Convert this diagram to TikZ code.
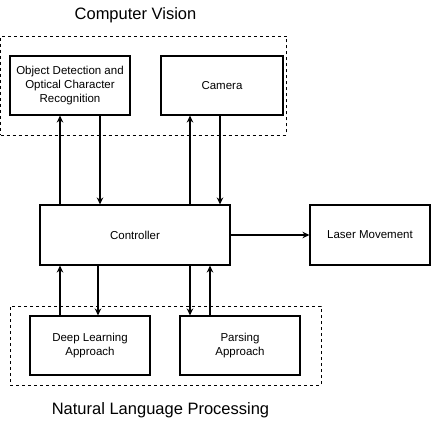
\documentclass[tikz,border=0pt]{standalone}
\usepackage{fontspec}
\setmainfont{Liberation Sans}
\usepackage{tikz}
\usetikzlibrary{arrows.meta, positioning}

\begin{document}
\begin{tikzpicture}[x=1pt, y=-1pt, >={Stealth[length=7pt, width=6.5pt]},
  block/.style={draw, line width=1.1pt, minimum width=120pt, minimum height=59pt,
                align=center, inner sep=2pt, font=\fontsize{11.5}{14}\selectfont},
  group/.style={draw, line width=0.9pt, dash pattern=on 3pt off 3pt, inner sep=0pt},
  grouptitle/.style={font=\fontsize{16.5}{20}\selectfont},
  link/.style={->, line width=1.1pt}]
  \useasboundingbox (0,0) rectangle (431,425);
  % computer vision
  \node[group, minimum width=285.5pt, minimum height=99pt] (cv) at (143.25,85.5) {};
  \node[grouptitle] (cvtitle) at (135.5,15) {Computer Vision};
  \node[block] (ocr) at (70,85.5) {Object Detection and\\Optical Character\\Recognition};
  \node[block, minimum width=122pt] (cam) at (222,85.5) {Camera};
  % controller and output
  \node[block, minimum width=190pt, minimum height=60pt] (ctrl) at (135,235) {Controller};
  \node[block, minimum height=60pt] (laser) at (370,235) {Laser Movement};
  % natural language processing
  \node[group, minimum width=311pt, minimum height=79pt] (nlp) at (165.5,345.5) {};
  \node[grouptitle] (nlptitle) at (160.5,410) {Natural Language Processing};
  \node[block] (dl) at (90,345.5) {Deep Learning\\Approach};
  \node[block] (parse) at (240,345.5) {Parsing\\Approach};
  % connectors
  \draw[link] ([xshift=-75pt]ctrl.north) -- ([xshift=-10pt]ocr.south);
  \draw[link] ([xshift=30pt]ocr.south) -- ([xshift=-35pt]ctrl.north);
  \draw[link] ([xshift=55pt]ctrl.north) -- ([xshift=-32pt]cam.south);
  \draw[link] ([xshift=-2pt]cam.south) -- ([xshift=85pt]ctrl.north);
  \draw[link] (ctrl.east) -- (laser.west);
  \draw[link] ([xshift=-30pt]dl.north) -- ([xshift=-75pt]ctrl.south);
  \draw[link] ([xshift=-37pt]ctrl.south) -- ([xshift=8pt]dl.north);
  \draw[link] ([xshift=55pt]ctrl.south) -- ([xshift=-50pt]parse.north);
  \draw[link] ([xshift=-30pt]parse.north) -- ([xshift=75pt]ctrl.south);
\end{tikzpicture}
\end{document}
